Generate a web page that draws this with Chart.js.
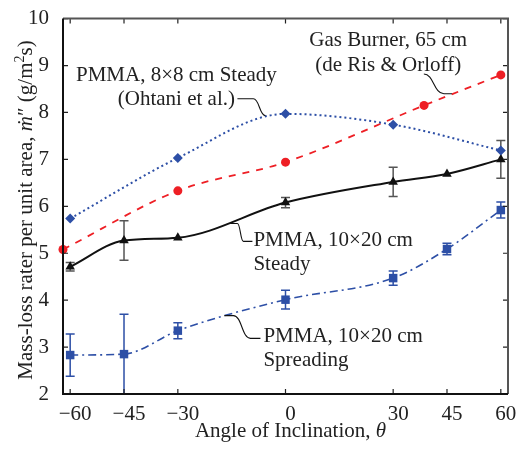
<!DOCTYPE html>
<html><head><meta charset="utf-8">
<script src="https://cdn.jsdelivr.net/npm/chart.js@4/dist/chart.umd.min.js"></script>
<style>html,body{margin:0;padding:0;background:#fff}#wrap{width:519px;height:452px}</style>
</head><body><div id="wrap"><canvas id="c" width="519" height="452"></canvas></div>
<script>
// ---- data ----
const xTicks = [-60, -45, -30, 0, 30, 45, 60];
const yTicks = [2, 3, 4, 5, 6, 7, 8, 9, 10];

const ohtaniX = [-60, -30, 0, 30, 60];
const ohtaniY = [5.74, 7.03, 7.97, 7.74, 7.19];

const gasX = [-62, -30, 0, 38.6, 60];
const gasY = [5.08, 6.33, 6.94, 8.15, 8.80];

const steadyX = [-60, -45, -30, 0, 30, 45, 60];
const steadyY = [4.71, 5.27, 5.33, 6.08, 6.52, 6.69, 7.00];
const steadyErr = [0.09, 0.42, 0, 0.11, 0.31, 0, 0.40];

const spreadX = [-60, -45, -30, 0, 30, 45, 60];
const spreadY = [2.83, 2.85, 3.35, 4.01, 4.47, 5.09, 5.92];
const spreadErr = [0.45, 0.85, 0.17, 0.20, 0.15, 0.12, 0.17];

const xTitle = ["Angle of Inclination, ", "θ"];
const yTitle = ["Mass-loss rater per unit area, ", "ṁ", "″ (g/m", "2", "s)"];

// annotation texts (anchored in data units)
const notes = [
  { lines: ["PMMA, 8×8 cm Steady", "(Ohtani et al.)"], x: -30.4, y: [8.671, 8.165], align: "center" },
  { lines: ["Gas Burner, 65 cm", "(de Ris & Orloff)"], x: 28.6, y: [9.409, 8.882], align: "center" },
  { lines: ["PMMA, 10×20 cm", "Steady"], x: -8.94, y: [5.148, 4.641], align: "left" },
  { lines: ["PMMA, 10×20 cm", "Spreading"], x: -6.15, y: [3.101, 2.595], align: "left" }
];
// leader lines: start, S-start, S-end, end (data units)
const leaders = [
  [[-13.4, 8.291], [-8.94, 8.291], [-5.59, 7.932], [-5.59, 7.932]],
  [[38.55, 8.819], [38.55, 8.819], [44.13, 8.397], [46.37, 8.397]],
  [[-15.36, 5.633], [-13.41, 5.633], [-11.73, 5.253], [-9.22, 5.253]],
  [[-17.04, 3.671], [-14.53, 3.671], [-9.78, 3.186], [-6.98, 3.186]]
];

const BLUE = "#2d4fa6", RED = "#ee1f25", BLACK = "#111";
const FONT = "Liberation Serif";
const pts = (xs, ys) => xs.map((x, i) => ({ x: x, y: ys[i] }));

// layout targets for the plot frame
const target = { left: 63, top: 14, right: 508, bottom: 394 };
let yWidth = 63, xHeight = 58;

const errorBars = {
  id: "errorBars",
  beforeDatasetsDraw(chart) {
    const { ctx, scales: { x, y } } = chart;
    const sets = [[steadyX, steadyY, steadyErr, "#555"], [spreadX, spreadY, spreadErr, BLUE]];
    ctx.save();
    ctx.lineWidth = 1.5;
    sets.forEach(([xs, ys, es, col]) => {
      ctx.strokeStyle = col;
      xs.forEach((xv, i) => {
        if (!es[i]) return;
        const px = x.getPixelForValue(xv);
        const t = y.getPixelForValue(ys[i] + es[i]);
        const b = y.getPixelForValue(ys[i] - es[i]);
        ctx.beginPath();
        ctx.moveTo(px, t); ctx.lineTo(px, b);
        ctx.moveTo(px - 4.5, t); ctx.lineTo(px + 4.5, t);
        ctx.moveTo(px - 4.5, b); ctx.lineTo(px + 4.5, b);
        ctx.stroke();
      });
    });
    ctx.restore();
  }
};

const decor = {
  id: "decor",
  afterDraw(chart) {
    const { ctx, chartArea: a, scales: { x, y } } = chart;
    ctx.save();
    // inward ticks on all sides
    ctx.strokeStyle = "#222"; ctx.lineWidth = 1.2;
    ctx.beginPath();
    xTicks.forEach(v => {
      const px = x.getPixelForValue(v);
      ctx.moveTo(px, a.bottom); ctx.lineTo(px, a.bottom - 5);
      ctx.moveTo(px, a.top); ctx.lineTo(px, a.top + 5);
    });
    yTicks.forEach(v => {
      const py = y.getPixelForValue(v);
      ctx.moveTo(a.left, py); ctx.lineTo(a.left + 5, py);
      ctx.moveTo(a.right, py); ctx.lineTo(a.right - 5, py);
    });
    ctx.stroke();
    // frame
    ctx.lineWidth = 2;
    ctx.strokeStyle = "#555";
    ctx.beginPath();
    ctx.moveTo(a.left, a.top); ctx.lineTo(a.right, a.top); ctx.lineTo(a.right, a.bottom);
    ctx.stroke();
    ctx.strokeStyle = "#111";
    ctx.beginPath();
    ctx.moveTo(a.left, a.top); ctx.lineTo(a.left, a.bottom); ctx.lineTo(a.right, a.bottom);
    ctx.stroke();

    // leaders
    ctx.strokeStyle = "#111"; ctx.lineWidth = 1.1;
    leaders.forEach(L => {
      const p = L.map(q => [x.getPixelForValue(q[0]), y.getPixelForValue(q[1])]);
      const mx = (p[1][0] + p[2][0]) / 2;
      ctx.beginPath();
      ctx.moveTo(p[0][0], p[0][1]);
      ctx.lineTo(p[1][0], p[1][1]);
      ctx.bezierCurveTo(mx, p[1][1], mx, p[2][1], p[2][0], p[2][1]);
      ctx.lineTo(p[3][0], p[3][1]);
      ctx.stroke();
    });

    // annotation text
    ctx.fillStyle = "#222";
    ctx.font = "21px '" + FONT + "'";
    ctx.textBaseline = "alphabetic";
    notes.forEach(n => {
      ctx.textAlign = n.align;
      n.lines.forEach((s, i) => ctx.fillText(s, x.getPixelForValue(n.x), y.getPixelForValue(n.y[i])));
    });

    // x title
    ctx.textAlign = "left";
    const nf = "21px '" + FONT + "'", itf = "italic 21px '" + FONT + "'";
    ctx.font = nf; const w1 = ctx.measureText(xTitle[0]).width;
    ctx.font = itf; const w2 = ctx.measureText(xTitle[1]).width;
    let sx = (a.left + a.right) / 2 + 5 - (w1 + w2) / 2;
    ctx.font = nf; ctx.fillText(xTitle[0], sx, a.bottom + 43);
    ctx.font = itf; ctx.fillText(xTitle[1], sx + w1, a.bottom + 43);

    // y title (rotated)
    const segs = [
      [yTitle[0], nf, 0], [yTitle[1], itf, 0], [yTitle[2], nf, 0],
      [yTitle[3], "14px '" + FONT + "'", -8], [yTitle[4], nf, 0]
    ];
    let total = 0;
    segs.forEach(s => { ctx.font = s[1]; s.push(ctx.measureText(s[0]).width); total += s[3]; });
    ctx.translate(a.left - 31, 210);
    ctx.rotate(-Math.PI / 2);
    let cx = -total / 2;
    segs.forEach(s => { ctx.font = s[1]; ctx.fillText(s[0], cx, s[2]); cx += s[3]; });
    ctx.restore();
  }
};

const chart = new Chart(document.getElementById("c"), {
  type: "line",
  data: {
    datasets: [
      { data: pts(ohtaniX, ohtaniY), borderColor: BLUE, backgroundColor: BLUE, borderWidth: 2,
        borderDash: [2, 3], pointStyle: "rectRot", pointRadius: 5, pointBorderWidth: 0, clip: false },
      { data: pts(gasX, gasY), borderColor: RED, backgroundColor: RED, borderWidth: 1.8,
        borderDash: [7, 7], pointStyle: "circle", pointRadius: 4.5, pointBorderWidth: 0, clip: false },
      { data: pts(steadyX, steadyY), borderColor: BLACK, backgroundColor: BLACK, borderWidth: 2,
        pointStyle: "triangle", pointRadius: 5.5, pointBorderWidth: 0, clip: false },
      { data: pts(spreadX, spreadY), borderColor: BLUE, backgroundColor: BLUE, borderWidth: 1.6,
        borderDash: [8, 4, 2, 4], pointStyle: "rect", pointRadius: 6, pointBorderWidth: 0, clip: false }
    ]
  },
  options: {
    responsive: false, animation: false, devicePixelRatio: 1,
    layout: { padding: { top: 14, right: 11, left: 0, bottom: 0 } },
    elements: { line: { cubicInterpolationMode: "monotone", fill: false } },
    plugins: { legend: { display: false }, tooltip: { enabled: false } },
    scales: {
      x: {
        type: "linear", min: -62, max: 62,
        grid: { display: false }, border: { display: false },
        afterBuildTicks: s => { s.ticks = xTicks.map(v => ({ value: v })); },
        afterFit: s => { s.height = xHeight; },
        ticks: { font: { family: FONT, size: 21 }, color: "#222", padding: 0, labelOffset: 5,
          maxRotation: 0, autoSkip: false,
          callback: v => (v < 0 ? "\u2212" + Math.abs(v) : String(v)) }
      },
      y: {
        type: "linear", min: 2, max: 10,
        grid: { display: false }, border: { display: false },
        afterBuildTicks: s => { s.ticks = yTicks.map(v => ({ value: v })); },
        afterFit: s => { s.width = yWidth; },
        ticks: { font: { family: FONT, size: 21 }, color: "#222", padding: 6, autoSkip: false,
          callback: v => String(v) }
      }
    }
  },
  plugins: [errorBars, decor]
});

// nudge the layout so the plot frame lands where the reference has it
for (let k = 0; k < 4; k++) {
  const a = chart.chartArea, p = chart.options.layout.padding;
  const dT = target.top - a.top, dB = a.bottom - target.bottom, dR = a.right - target.right, dL = target.left - a.left;
  if (Math.abs(dT) + Math.abs(dB) + Math.abs(dR) + Math.abs(dL) < 0.5) break;
  p.top += dT; xHeight += dB; p.right += dR; yWidth += dL;
  chart.update();
}
</script>
</body></html>
